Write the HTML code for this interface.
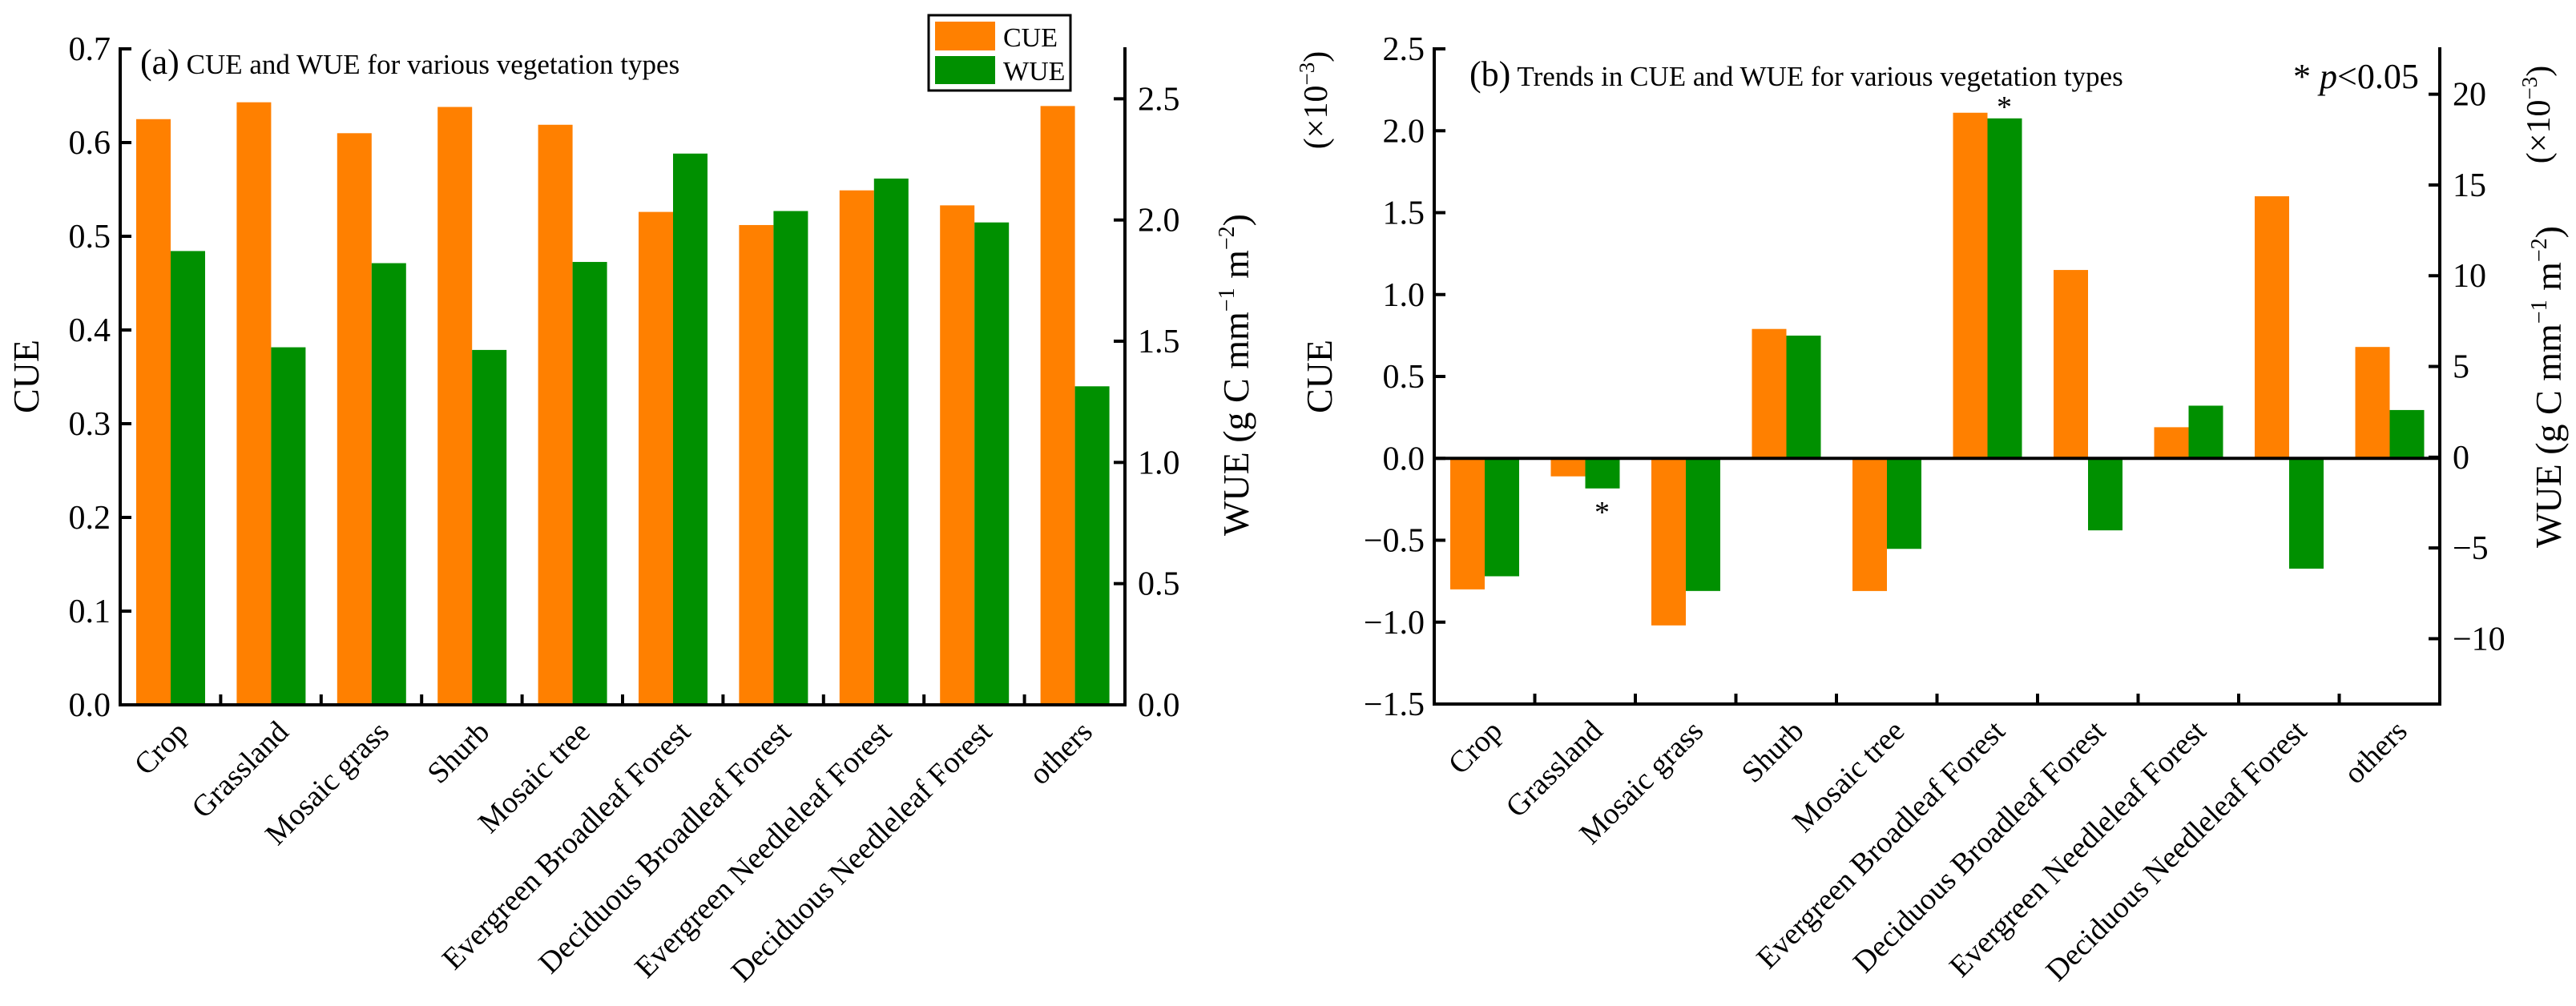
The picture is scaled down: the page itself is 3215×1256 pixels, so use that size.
<!DOCTYPE html>
<html><head><meta charset="utf-8"><style>
body{margin:0;background:#fff}
svg{display:block;font-family:"Liberation Serif",serif}
</style></head><body>
<svg id="c" width="3215" height="1256" viewBox="0 0 3215 1256" xmlns="http://www.w3.org/2000/svg"></svg>
<script>
const categories=["Crop","Grassland","Mosaic grass","Shurb","Mosaic tree","Evergreen Broadleaf Forest","Deciduous Broadleaf Forest","Evergreen Needleleaf Forest","Deciduous Needleleaf Forest","others"];
const cueA=[0.625,0.643,0.610,0.638,0.619,0.526,0.512,0.549,0.533,0.639];
const wueA=[1.872,1.475,1.822,1.464,1.827,2.274,2.037,2.171,1.990,1.314];
const cueB=[-0.80,-0.11,-1.02,0.79,-0.81,2.11,1.15,0.19,1.60,0.68];
const wueB=[-6.56,-1.72,-7.37,6.70,-5.05,18.67,-4.03,2.84,-6.14,2.60];
const sigB=[false,true,false,false,false,true,false,false,false,false];
const ticksA=["0.0","0.1","0.2","0.3","0.4","0.5","0.6","0.7"];
const ticksA2=["0.0","0.5","1.0","1.5","2.0","2.5"];
const ticksB=["−1.5","−1.0","−0.5","0.0","0.5","1.0","1.5","2.0","2.5"];
const ticksB2=["−10","−5","0","5","10","15","20"];

const NS="http://www.w3.org/2000/svg";
const svg=document.getElementById('c');
function el(tag,attrs,parent,text){const e=document.createElementNS(NS,tag);for(const k in attrs)e.setAttribute(k,attrs[k]);if(text!==undefined)e.textContent=text;(parent||svg).appendChild(e);return e;}
const OR="#FF8000",GR="#009000";

function panel(o){
  const g=el('g',{});
  
  
  const {x0,x1,yTop,yBot}=o;
  const yL=v=>yBot-(v-o.lmin)/(o.lmax-o.lmin)*(yBot-yTop);
  const yR=v=>yBot-(v-o.rmin)/(o.rmax-o.rmin)*(yBot-yTop);
  const cw=(x1-x0)/categories.length;
  const base=o.zeroLine?yL(0):yBot;
  categories.forEach((c,i)=>{
    const cx=x0+i*cw;
    const v1=o.cue[i], v2=o.wue[i];
    const y1=yL(v1), y2=yR(v2);
    const b1=el('rect',{x:cx+20,y:Math.min(y1,base),width:43,height:Math.abs(base-y1),fill:OR},g);
    
    
    const b2=el('rect',{x:cx+63,y:Math.min(y2,base),width:43,height:Math.abs(base-y2),fill:GR},g);
    
    
    if(o.sig&&o.sig[i]){
      const sy=v2>=0?y2-2:y2+42;
      const s=el('text',{x:cx+84,y:sy,'font-size':38,'text-anchor':'middle'},g,'*');
      
      
    }
    const lx=cx+cw/2+24, ly=yBot+36;
    const t=el('text',{x:lx,y:ly,'font-size':38,'text-anchor':'end',transform:`rotate(-45 ${lx} ${ly})`},g,c);
    
    
    if(i>0){el('line',{x1:cx,x2:cx,y1:yBot,y2:yBot-13,stroke:'#000','stroke-width':4},g);}
  });
  el('path',{d:`M${x0+14} ${yTop} H${x0} V${yBot} H${x1} V${o.rTop}`,fill:'none',stroke:'#000','stroke-width':4},g);
  if(o.zeroLine) el('line',{x1:x0,x2:x1,y1:base,y2:base,stroke:'#000','stroke-width':4},g);
  o.lt.forEach(s=>{const v=parseFloat(s.replace('−','-'));const y=yL(v);
    el('line',{x1:x0,x2:x0+14,y1:y,y2:y,stroke:'#000','stroke-width':4},g);
    const t=el('text',{x:x0-12,y:y+14,'font-size':42,'text-anchor':'end'},g,s);
    
    });
  o.rt.forEach(s=>{const v=parseFloat(s.replace('−','-'));const y=yR(v);
    el('line',{x1:x1,x2:x1-14,y1:y,y2:y,stroke:'#000','stroke-width':4},g);
    const t=el('text',{x:x1+16,y:y+14,'font-size':42,'text-anchor':'start'},g,s);
    
    });
  return g;
}

panel({name:'panel-a',x0:150,x1:1404,yTop:61,yBot:880,rTop:59,lmin:0,lmax:0.7,rmin:0,rmax:2.706,cue:cueA,wue:wueA,lt:ticksA,rt:ticksA2});
panel({name:'panel-b',x0:1790,x1:3045,yTop:61,yBot:879,rTop:59,lmin:-1.5,lmax:2.5,rmin:-13.6,rmax:22.5,cue:cueB,wue:wueB,lt:ticksB,rt:ticksB2,zeroLine:true,sig:sigB});

function txt(name,attrs,content){const t=el('text',attrs,svg);t.innerHTML=content;return t;}
const wueLbl='WUE (g C mm<tspan dy="-18" font-size="28">−1</tspan><tspan dy="18"> m</tspan><tspan dy="-18" font-size="28">−2</tspan><tspan dy="18">)</tspan>';
txt('panel-a-title',{x:175,y:92,'font-size':35},'<tspan font-size="44">(a)</tspan> CUE and WUE  for various vegetation types');
txt('panel-b-title',{x:1834,y:107,'font-size':35},'<tspan font-size="44">(b)</tspan> Trends in CUE and WUE for various vegetation types');
txt('significance-note',{x:2862,y:110,'font-size':44},'* <tspan font-style="italic">p</tspan>&lt;0.05');
txt('panel-a-y-left-title',{x:48,y:470,'font-size':46,'text-anchor':'middle',transform:'rotate(-90 48 470)'},'CUE');
txt('panel-a-y-right-title',{x:1558,y:468,'font-size':46,'text-anchor':'middle',transform:'rotate(-90 1558 468)'},wueLbl);
txt('panel-b-y-left-title',{x:1662,y:470,'font-size':46,'text-anchor':'middle',transform:'rotate(-90 1662 470)'},'CUE');
txt('panel-b-y-left-multiplier',{x:1656,y:125,'font-size':42,'text-anchor':'middle',transform:'rotate(-90 1656 125)'},'(×10<tspan dy="-16" font-size="27">−3</tspan><tspan dy="16">)</tspan>');
txt('panel-b-y-right-title',{x:3196,y:483,'font-size':46,'text-anchor':'middle',transform:'rotate(-90 3196 483)'},wueLbl);
txt('panel-b-y-right-multiplier',{x:3182,y:143,'font-size':42,'text-anchor':'middle',transform:'rotate(-90 3182 143)'},'(×10<tspan dy="-16" font-size="27">−3</tspan><tspan dy="16">)</tspan>');

const lg=el('g',{});


el('rect',{x:1159,y:19,width:177,height:94,fill:'#fff',stroke:'#000','stroke-width':3},lg);
el('rect',{x:1167,y:27,width:75,height:36,fill:OR},lg);
el('rect',{x:1167,y:70,width:75,height:35,fill:GR},lg);
const l1=el('text',{x:1252,y:58,'font-size':34},lg,'CUE');


const l2=el('text',{x:1252,y:100,'font-size':34},lg,'WUE');


</script>
</body></html>
